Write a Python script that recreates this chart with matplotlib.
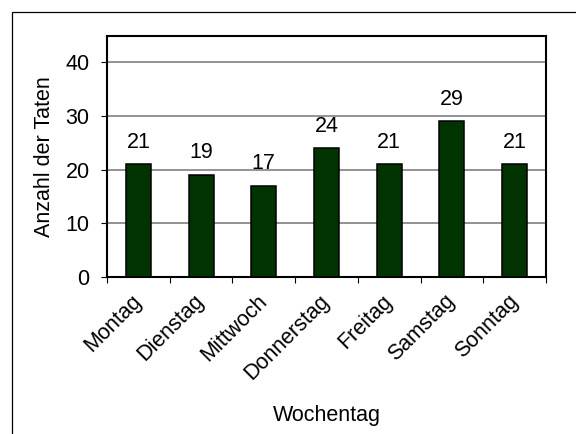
import matplotlib.pyplot as plt
from matplotlib.patches import Rectangle

# Data
wochentage = ["Montag", "Dienstag", "Mittwoch", "Donnerstag", "Freitag", "Samstag", "Sonntag"]
taten = [21, 19, 17, 24, 21, 29, 21]

plt.rcParams['font.family'] = ['Liberation Sans', 'DejaVu Sans']
fs = 15.5

W, H = 576, 434
fig = plt.figure(figsize=(W / 100, H / 100), dpi=100)
ax = fig.add_axes([107 / W, 1 - 277 / H, (546 - 107) / W, (277 - 35.5) / H])

# outer frame (cut off at right and bottom)
fig.patches.append(Rectangle((12 / W, -0.2), 1.5, 1.2 - 12 / H, transform=fig.transFigure,
                             fill=False, edgecolor="black", linewidth=0.9))

x = list(range(len(wochentage)))
bars = ax.bar(x, taten, width=0.4, color="#003300", edgecolor="black", linewidth=1.1, zorder=3)

for xi, v in zip(x, taten):
    ax.annotate(str(v), (xi, v), xytext=(0, 12), textcoords="offset points",
                ha="center", va="baseline", fontsize=fs)

ax.set_xlim(-0.5, len(wochentage) - 0.5)
ax.set_ylim(0, 45)
ax.set_yticks([0, 10, 20, 30, 40])
ax.yaxis.grid(True, color="#808080", linewidth=1.2, zorder=0)
ax.tick_params(axis="y", labelsize=fs, length=4.5, width=0.8, pad=8, direction="out")

ax.set_xticks(x)
ax.set_xticklabels(wochentage, rotation=45, ha="right", va="center", rotation_mode="anchor", fontsize=fs)
ax.tick_params(axis="x", which="major", length=0, pad=15)
ax.set_xticks([i - 0.5 for i in range(len(wochentage) + 1)], minor=True)
ax.tick_params(axis="x", which="minor", length=4.5, width=0.8, direction="out")

for spine in ax.spines.values():
    spine.set_linewidth(1.5)

fig.text(45 / W, 1 - 157 / H, "Anzahl der Taten", rotation=90, ha="center", va="center", fontsize=fs)
fig.text(327 / W, 1 - 416 / H, "Wochentag", ha="center", va="center", fontsize=fs)

fig.savefig("out.png", dpi=100)
